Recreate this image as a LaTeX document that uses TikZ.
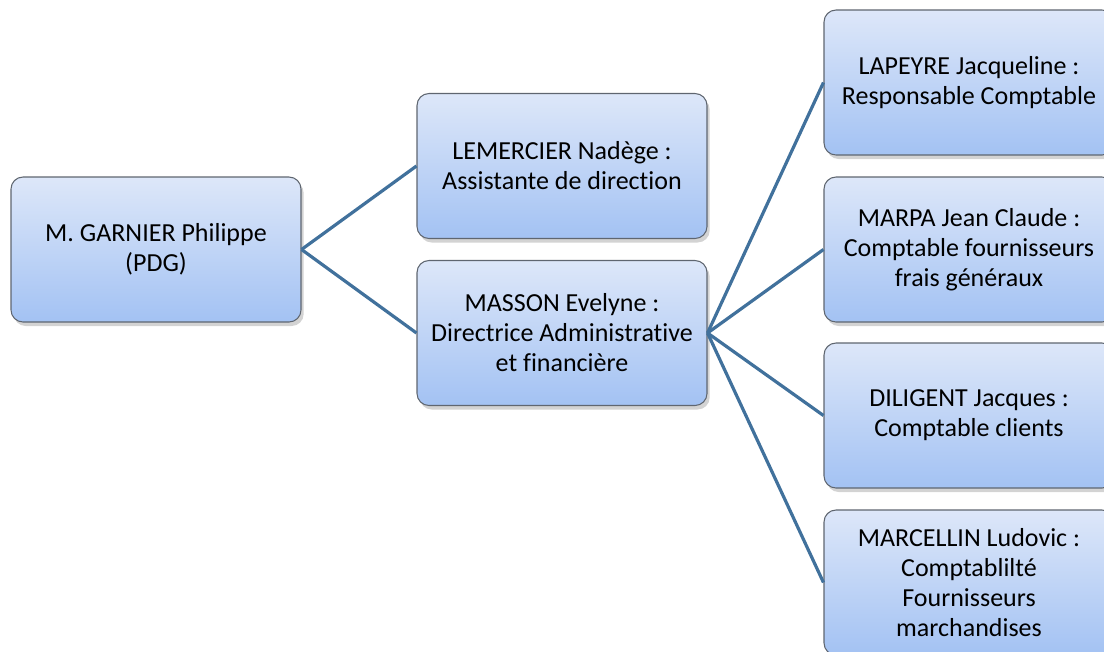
\documentclass[tikz,border=0pt]{standalone}
\usepackage{fontspec}
\setmainfont[Ligatures=NoCommon]{Carlito}
\usetikzlibrary{shadows}
\definecolor{boxtop}{HTML}{DDE7F9}
\definecolor{boxbot}{HTML}{A3C2F3}
\definecolor{boxline}{HTML}{5F6670}
\definecolor{linkcol}{HTML}{41719C}
\begin{document}
\begin{tikzpicture}[x=0.75pt,y=-0.75pt,
	person/.style={draw=boxline, line width=0.8pt, rounded corners=9pt,
		top color=boxtop, bottom color=boxbot, align=center,
		minimum width=217.5pt, minimum height=108.75pt, inner sep=0pt,
		font=\fontsize{19.5}{22.5}\selectfont,
		drop shadow={shadow xshift=2pt, shadow yshift=-3pt, opacity=0.35}},
	link/.style={draw=linkcol, line width=2.4pt}]
		\useasboundingbox (0,0) rectangle (1104,651);
		\clip (0,0) rectangle (1104,651);

		\node[person] at (156,249.5)(pdg){M. GARNIER Philippe\\(PDG)};

		\node[person] at (562,166)(lem){LEMERCIER Nadège :\\Assistante de direction};
		\node[person] at (562,333)(mas){MASSON Evelyne :\\Directrice Administrative\\et financière};

		\node[person] at (969,82.5)(lap){LAPEYRE Jacqueline :\\Responsable Comptable};
		\node[person] at (969,249.5)(mar){MARPA Jean Claude :\\Comptable fournisseurs\\frais généraux};
		\node[person] at (969,415.5)(dil){DILIGENT Jacques :\\Comptable clients};
		\node[person] at (969,582.5)(mcl){MARCELLIN Ludovic :\\Comptablilté\\Fournisseurs\\marchandises};

		\path[link] (pdg.east) edge (lem.west) (pdg.east) edge (mas.west);
		\path[link] (mas.east) edge (lap.west) (mas.east) edge (mar.west)
			(mas.east) edge (dil.west) (mas.east) edge (mcl.west);
	\end{tikzpicture}
\end{document}
